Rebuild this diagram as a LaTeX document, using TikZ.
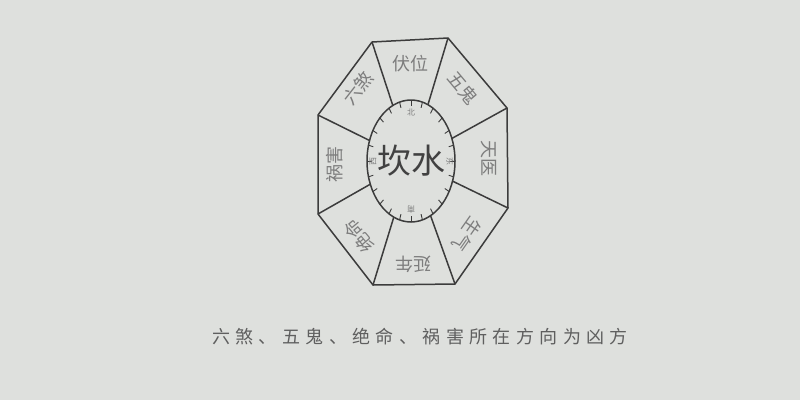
\documentclass[tikz,border=0pt]{standalone}
\usepackage{fontspec}
\newfontfamily\cjk{Noto Sans CJK SC}
\newfontfamily\cjkwide[LetterSpace=30]{Noto Sans CJK SC}
\definecolor{bgc}{RGB}{222,224,221}
\definecolor{linec}{RGB}{60,60,60}
\definecolor{labc}{RGB}{125,125,125}
\definecolor{midc}{RGB}{65,65,65}
\definecolor{capc}{RGB}{95,95,95}
\begin{document}
\begin{tikzpicture}[x=1pt,y=-1pt,
  edge/.style={draw=linec, line width=1.5pt, line join=round},
  ringtick/.style={draw=linec, line width=0.9pt},
  lab/.style={text=labc, font=\cjk\fontsize{18}{18}\selectfont, inner sep=0pt},
  small/.style={text=labc, font=\cjk\fontsize{8}{8}\selectfont, inner sep=0pt},
  mid/.style={text=midc, font=\cjk\fontsize{34}{34}\selectfont, inner sep=0pt},
  captext/.style={text=capc, font=\cjkwide\fontsize{18}{18}\selectfont, inner sep=0pt}]
\fill[bgc] (0,0) rectangle (800,400);
\useasboundingbox (0,0) rectangle (800,400);
% octagon vertices
\coordinate (tl) at (372,42);
\coordinate (tr) at (448,38);
\coordinate (rt) at (507,108);
\coordinate (rb) at (508,208);
\coordinate (br) at (455,284);
\coordinate (bl) at (373,285);
\coordinate (lb) at (318,214);
\coordinate (lt) at (318,115);
\coordinate (c) at (411,161);
% spokes
\foreach \v in {tl,tr,rt,rb,br,bl,lb,lt} \draw[edge] (\v) -- (c);
\draw[edge] (tl) -- (tr) -- (rt) -- (rb) -- (br) -- (bl) -- (lb) -- (lt) -- cycle;
% inner ring
\fill[bgc] (c) ellipse [x radius=44, y radius=61];
\draw[edge] (c) ellipse [x radius=44, y radius=61];
\foreach \a in {0,15,...,345}
  \draw[ringtick] ({411+44*cos(\a)},{161+61*sin(\a)}) -- ({411+39*cos(\a)},{161+55*sin(\a)});
% labels
\node[lab] (fuwei) at (410,64) {伏位};
\node[lab, rotate=-50] (wugui) at (463,88) {五鬼};
\node[lab, rotate=-90] (tianyi) at (489,158) {天医};
\node[lab, rotate=-125] (shengqi) at (467,234) {生气};
\node[lab, rotate=180] (yannian) at (413,264) {延年};
\node[lab, rotate=130] (jueming) at (359,236) {绝命};
\node[lab, rotate=90] (huohai) at (335,164) {祸害};
\node[lab, rotate=52] (liusha) at (358,88) {六煞};
% small directions
\node[small] (bei) at (411,112) {北};
\node[small, rotate=180] (nan) at (411,210) {南};
\node[small, rotate=90] (xi) at (373,161) {西};
\node[small, rotate=-90] (dong) at (450,161) {东};
% centre
\node[mid] (kanshui) at (411,161) {坎水};
% caption
\node[captext] (caption) at (420,337) {六煞、五鬼、绝命、祸害所在方向为凶方};
\end{tikzpicture}
\end{document}
